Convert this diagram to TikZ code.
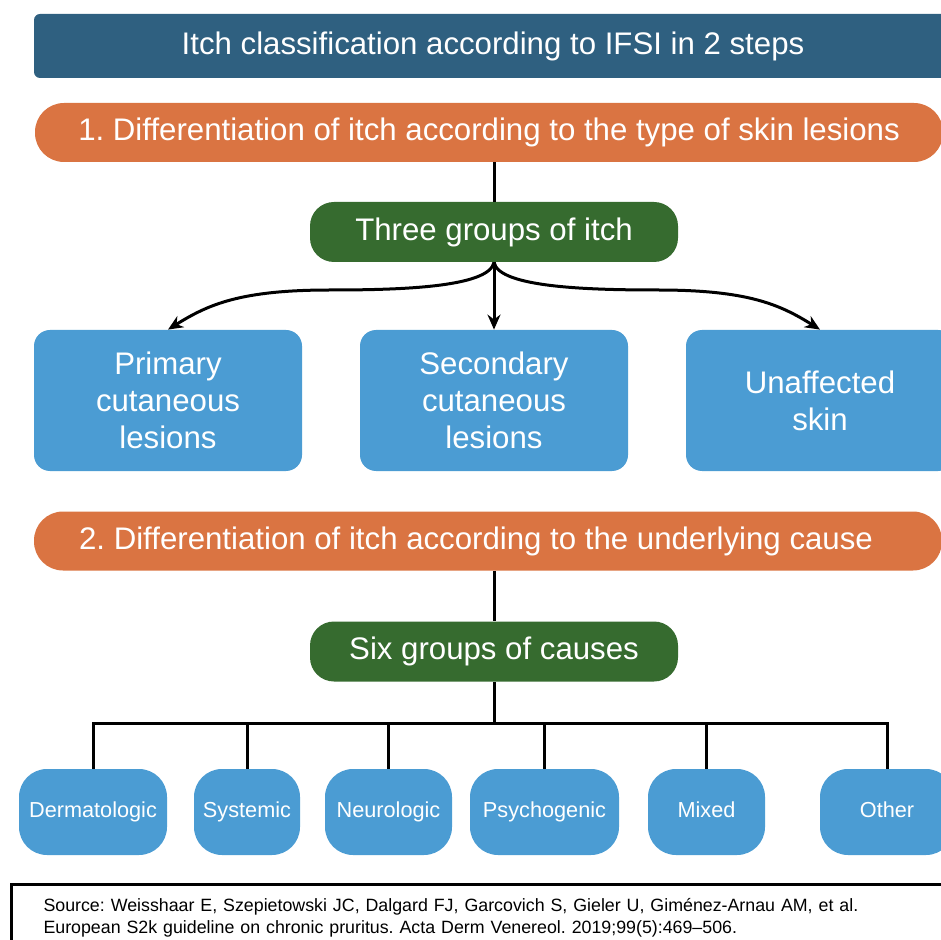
\documentclass[tikz,border=0pt]{standalone}
\usepackage{fontspec}
\setmainfont{Liberation Sans}
\usetikzlibrary{arrows.meta}
\frenchspacing
\definecolor{ifsi-blue}{HTML}{2F6080}
\definecolor{ifsi-orange}{HTML}{DA7442}
\definecolor{ifsi-green}{HTML}{366B2F}
\definecolor{ifsi-sky}{HTML}{4B9CD3}
\tikzset{
    big-text/.style = {font=\fontsize{15.6}{18.6}\selectfont, text=white},
    title-bar/.style = {big-text, fill=ifsi-blue, rounded corners=3pt, inner sep=0pt, minimum width=459pt, minimum height=32pt},
    step-bar/.style = {big-text, fill=ifsi-orange, rounded corners=14.5pt, inner sep=0pt, minimum width=454pt, minimum height=29.5pt},
    group-box/.style = {big-text, fill=ifsi-green, rounded corners=12pt, inner sep=0pt, minimum width=184pt, minimum height=30pt},
    lesion-box/.style = {big-text, fill=ifsi-sky, rounded corners=8pt, inner sep=0pt, minimum width=134pt, minimum height=70.5pt, align=center},
    cause-box/.style = {font=\fontsize{10.85}{13}\selectfont, text=white, fill=ifsi-sky, rounded corners=14pt, inner sep=0pt, minimum height=43pt, text height=8pt, text depth=2.3pt},
    link/.style = {line width=1.5pt, draw=black},
    arrow-link/.style = {link, -{Stealth[length=7.5pt, width=6.5pt]}},
}
\begin{document}
\begin{tikzpicture}[x=0.5pt, y=-0.5pt]
\useasboundingbox (0,0) rectangle (941,940);
\clip (0,0) rectangle (941,940);

\node[title-bar] (title) at (493,46) {Itch classification according to IFSI in 2 steps};

% step 1: skin lesions
\node[step-bar] (step-one) at (489,132.5) {1. Differentiation of itch according to the type of skin lesions};
\node[group-box] (three) at (494,232) {Three groups of itch};
\node[lesion-box] (primary) at (168,400.5) {Primary\\cutaneous\\lesions};
\node[lesion-box] (secondary) at (494,400.5) {Secondary\\cutaneous\\lesions};
\node[lesion-box] (unaffected) at (820,400.5) {Unaffected\\skin};

\coordinate (left-bend) at (330,290);
\coordinate (right-bend) at (658,290);
\draw[link] (step-one.south -| three.north) -- (three.north);
\draw[arrow-link] (three.south) .. controls +(-5,25) and +(70,0) .. (left-bend)
    .. controls +(-90,0) and +(40,-25) .. (primary.north);
\draw[arrow-link] (three.south) -- (secondary.north);
\draw[arrow-link] (three.south) .. controls +(5,25) and +(-70,0) .. (right-bend)
    .. controls +(90,0) and +(-40,-25) .. (unaffected.north);

% step 2: underlying cause
\node[step-bar] (step-two) at (488,541) {};
\node[big-text] (step-two-text) at (476,541) {2. Differentiation of itch according to the underlying cause};
\node[group-box] (six) at (494,651.5) {Six groups of causes};

\node[cause-box, minimum width=74pt] (derma) at (93,812) {Dermatologic};
\node[cause-box, minimum width=53pt] (systemic) at (247,812) {Systemic};
\node[cause-box, minimum width=63.5pt] (neuro) at (388.5,812) {Neurologic};
\node[cause-box, minimum width=74.5pt] (psycho) at (544.5,812) {Psychogenic};
\node[cause-box, minimum width=58.5pt] (mixed) at (706.5,812) {Mixed};
\node[cause-box, minimum width=67pt] (other) at (887,812) {Other};

\draw[link] (step-two.south -| six.north) -- (six.north);
\draw[link] (six.south) -- ++(0,42) coordinate (bus);
\foreach \c in {derma, systemic, neuro, psycho, mixed, other}
    \draw[link] (bus) -| (\c.north);

% source
\node[draw=black, line width=1.5pt, anchor=north west, inner xsep=16pt, inner ysep=7pt, text width=446pt, align=left,
      font=\fontsize{8.9}{11}\selectfont] (source) at (10,883)
    {Source: Weisshaar E, Szepietowski JC, Dalgard FJ, Garcovich S, Gieler U, Giménez-Arnau AM, et al.\\
     European S2k guideline on chronic pruritus. Acta Derm Venereol. 2019;99(5):469–506.};
\end{tikzpicture}
\end{document}
